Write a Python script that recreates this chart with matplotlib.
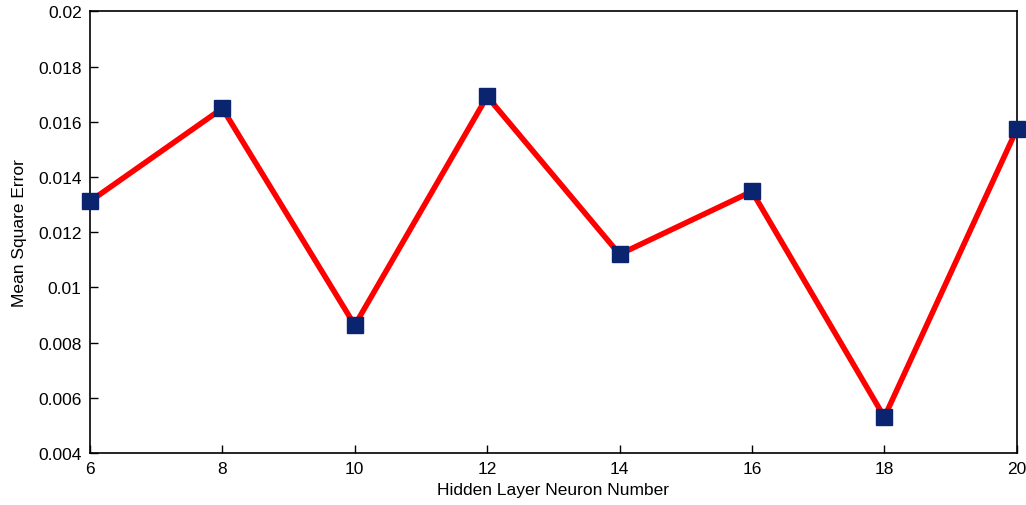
import matplotlib
matplotlib.use("Agg")
import matplotlib.pyplot as plt

neurons = [6, 8, 10, 12, 14, 16, 18, 20]
mse = [0.01312, 0.01649, 0.00863, 0.01692, 0.01120, 0.01348, 0.00530, 0.01573]
x_ticks = [6, 8, 10, 12, 14, 16, 18, 20]
y_ticks = [0.004, 0.006, 0.008, 0.01, 0.012, 0.014, 0.016, 0.018, 0.02]
y_labels = ["0.004", "0.006", "0.008", "0.01", "0.012", "0.014", "0.016", "0.018", "0.02"]

plt.rcParams["font.family"] = ["Liberation Sans", "DejaVu Sans"]

fig = plt.figure(figsize=(10.26, 5.06), dpi=100)
ax = fig.add_axes([0.0877, 0.1028, 0.9033, 0.8725])

ax.plot(neurons, mse, color="red", linewidth=4, marker="s", markersize=12,
        markerfacecolor="#0a2470", markeredgecolor="#0a2470", clip_on=False, zorder=3)

ax.set_xlim(6, 20)
ax.set_ylim(0.004, 0.02)
ax.set_xticks(x_ticks)
ax.set_yticks(y_ticks)
ax.set_yticklabels(y_labels)
ax.tick_params(direction="in", length=6, width=1, labelsize=12.5, colors="black", pad=6)
for s in ax.spines.values():
    s.set_linewidth(1.2)

ax.set_xlabel("Hidden Layer Neuron Number", fontsize=12.5, labelpad=4)
ax.set_ylabel("Mean Square Error", fontsize=12.5, labelpad=8)

fig.savefig("out.png", dpi=100)
